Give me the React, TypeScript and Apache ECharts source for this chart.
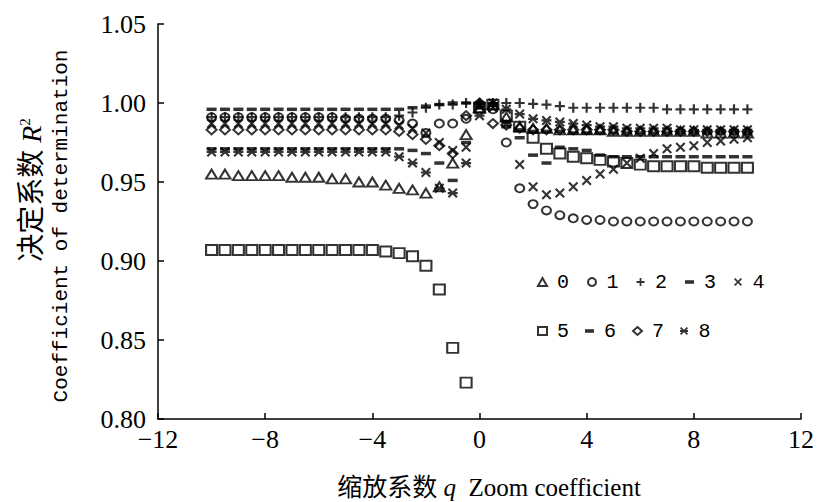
import React, { useEffect, useRef } from 'react';
import * as echarts from 'echarts';

// Zoom coefficient q
const qValues = [
  -10, -9.5, -9, -8.5, -8, -7.5, -7, -6.5, -6, -5.5, -5, -4.5, -4, -3.5, -3, -2.5, -2, -1.5, -1, -0.5,
  0, 0.5, 1, 1.5, 2, 2.5, 3, 3.5, 4, 4.5, 5, 5.5, 6, 6.5, 7, 7.5, 8, 8.5, 9, 9.5, 10,
];

const s0 = [
  0.955, 0.955, 0.954, 0.954, 0.954, 0.954, 0.953, 0.953, 0.953,
  0.952, 0.952, 0.950, 0.950, 0.948, 0.946, 0.945, 0.943, 0.947, 0.962, 0.980, 0.997, 0.999, 0.991, 0.985, 0.984, 0.984, 0.983,
  0.983, 0.983, 0.983, 0.982, 0.982, 0.982, 0.982, 0.982, 0.982, 0.982, 0.981, 0.981, 0.981, 0.981,
];
const s1 = [
  0.991, 0.991, 0.991, 0.991, 0.991, 0.991, 0.991, 0.991, 0.991, 0.991, 0.990, 0.990, 0.990, 0.990,
  0.989, 0.987, 0.981, 0.987, 0.987, 0.990, 0.999, 0.996, 0.975, 0.946, 0.936, 0.932, 0.929, 0.927, 0.926,
  0.926, 0.925, 0.925, 0.925, 0.925, 0.925, 0.925, 0.925, 0.925, 0.925, 0.925, 0.925,
];
const s2 = [
  0.991, 0.991, 0.991, 0.991, 0.991, 0.991, 0.991, 0.991, 0.991, 0.991, 0.991, 0.991, 0.991, 0.991,
  0.992, 0.994, 0.997, 0.999, 0.999, 1.000, 1.000, 1.000, 1.000, 1.000, 0.9995, 0.999, 0.998, 0.997, 0.997,
  0.997, 0.997, 0.997, 0.997, 0.997, 0.996, 0.996, 0.996, 0.996, 0.996, 0.996, 0.996,
];
const s3 = [
  0.996, 0.996, 0.996, 0.996, 0.996, 0.996, 0.996, 0.996, 0.996, 0.996, 0.996, 0.996, 0.996, 0.996,
  0.996, 0.997, 0.998, 0.999, 1.000, 1.000, 1.000, 0.999, 0.985, 0.983, 0.982, 0.982, 0.982, 0.981, 0.981,
  0.981, 0.981, 0.981, 0.981, 0.981, 0.981, 0.981, 0.981, 0.981, 0.981, 0.981, 0.981,
];
const s4 = [
  0.987, 0.987, 0.987, 0.987, 0.987, 0.987, 0.987, 0.987, 0.987, 0.987, 0.987, 0.987, 0.987, 0.987,
  0.986, 0.984, 0.981, 0.975, 0.970, 0.972, 0.998, 0.997, 0.987, 0.961, 0.947, 0.942, 0.943, 0.947, 0.951,
  0.955, 0.958, 0.962, 0.965, 0.968, 0.971, 0.972, 0.973, 0.975, 0.976, 0.977, 0.978,
];
const s5 = [
  0.907, 0.907, 0.907, 0.907, 0.907, 0.907, 0.907, 0.907, 0.907, 0.907, 0.907, 0.907, 0.907,
  0.906, 0.905, 0.903, 0.897, 0.882, 0.845, 0.823, 0.997, 0.999, 0.992, 0.985, 0.978, 0.971, 0.968, 0.966, 0.965,
  0.964, 0.963, 0.962, 0.961, 0.960, 0.960, 0.960, 0.960, 0.959, 0.959, 0.959, 0.959,
];
const s6 = [
  0.971, 0.971, 0.971, 0.971, 0.971, 0.971, 0.971, 0.971, 0.971, 0.971, 0.971, 0.971, 0.971, 0.971,
  0.971, 0.970, 0.968, 0.962, 0.951, 0.975, 0.997, 0.999, 0.988, 0.978, 0.967, 0.962, 0.972, 0.971, 0.970,
  0.967, 0.966, 0.966, 0.966, 0.966, 0.966, 0.966, 0.966, 0.966, 0.966, 0.966, 0.966,
];
const s7 = [
  0.983, 0.983, 0.983, 0.983, 0.983, 0.983, 0.983, 0.983, 0.983, 0.983, 0.983, 0.983, 0.983, 0.983,
  0.982, 0.980, 0.977, 0.973, 0.968, 0.992, 1.000, 0.987, 0.986, 0.984, 0.983, 0.983, 0.983, 0.983, 0.983,
  0.983, 0.983, 0.982, 0.982, 0.982, 0.982, 0.982, 0.982, 0.982, 0.982, 0.982, 0.982,
];
const s8 = [
  0.969, 0.969, 0.969, 0.969, 0.969, 0.969, 0.969, 0.969, 0.969, 0.969, 0.969, 0.969, 0.969, 0.969,
  0.966, 0.962, 0.956, 0.946, 0.943, 0.962, 0.992, 1.000, 0.996, 0.993, 0.990, 0.989, 0.988, 0.987, 0.986,
  0.985, 0.985, 0.984, 0.984, 0.984, 0.984, 0.983, 0.983, 0.983, 0.983, 0.983, 0.983,
];

const seriesNames = ['0', '1', '2', '3', '4', '5', '6', '7', '8'];
const seriesValues = [s0, s1, s2, s3, s4, s5, s6, s7, s8];

const xTicks = { min: -12, max: 12, interval: 4 };
const yTicks = { min: 0.8, max: 1.05, interval: 0.05 };

const PLUS = 'path://M3.9,0h2.2v10h-2.2z M0,3.9h10v2.2h-10z';
const CROSS = 'path://M0,1.5L1.5,0L10,8.5L8.5,10Z M8.5,0L10,1.5L1.5,10L0,8.5Z';
const STAR = 'path://M0,1.5L1.5,0L10,8.5L8.5,10Z M8.5,0L10,1.5L1.5,10L0,8.5Z M0,3.9h10v2.2h-10z';
const DASH_ICON = 'path://M0,0h10v4h-10z';

const hollow = { color: 'rgba(0,0,0,0)', borderColor: '#000', borderWidth: 2 };
const solid = { color: '#000', borderWidth: 0 };

const markerStyles: any[] = [
  { symbol: 'triangle', symbolSize: [11, 9], itemStyle: hollow },
  { symbol: 'circle', symbolSize: [9, 8], itemStyle: hollow },
  { symbol: PLUS, symbolSize: [10, 10], itemStyle: solid },
  { symbol: 'rect', symbolSize: [10, 3.5], itemStyle: solid },
  { symbol: CROSS, symbolSize: [10, 10], itemStyle: solid },
  { symbol: 'rect', symbolSize: [11, 10], itemStyle: hollow },
  { symbol: 'rect', symbolSize: [10, 3.5], itemStyle: solid },
  { symbol: 'diamond', symbolSize: [10, 9], itemStyle: hollow },
  { symbol: STAR, symbolSize: [10, 10], itemStyle: solid },
];

const LATIN = "'Liberation Serif', 'Noto Sans CJK SC', serif";

export default function App() {
  const ref = useRef<HTMLDivElement>(null);

  useEffect(() => {
    if (!ref.current) return;
    const chart = echarts.init(ref.current, null, { renderer: 'svg' });

    const series = seriesNames.map((name, k) => ({
      name,
      type: 'scatter',
      data: qValues.map((q, i) => [q, seriesValues[k][i]]),
      symbol: markerStyles[k].symbol,
      symbolSize: markerStyles[k].symbolSize,
      itemStyle: markerStyles[k].itemStyle,
      emphasis: { disabled: true },
    }));

    const legendItem = (name: string) =>
      name === '3' || name === '6' ? { name, icon: DASH_ICON } : { name };

    const legendCommon = {
      orient: 'horizontal',
      itemWidth: 9,
      itemHeight: 8,
      padding: 0,
      selectedMode: false,
      textStyle: {
        fontFamily: "'Liberation Mono', monospace",
        fontSize: 20,
        color: '#000',
        padding: [0, 0, 0, 5],
      },
    };

    chart.setOption({
      animation: false,
      backgroundColor: '#fff',
      grid: { left: 158, right: 11, top: 24, bottom: 83, containLabel: false },
      xAxis: {
        type: 'value',
        min: xTicks.min,
        max: xTicks.max,
        interval: xTicks.interval,
        axisLine: { show: true, onZero: false, lineStyle: { color: '#000', width: 1.5 } },
        axisTick: { show: true, inside: true, length: 6, lineStyle: { color: '#000', width: 1.5 } },
        splitLine: { show: false },
        axisLabel: {
          color: '#000',
          fontFamily: LATIN,
          fontSize: 26,
          margin: 7,
          formatter: (v: number) => (v < 0 ? '\u2212' + Math.abs(v) : String(v)),
        },
      },
      yAxis: {
        type: 'value',
        min: yTicks.min,
        max: yTicks.max,
        interval: yTicks.interval,
        axisLine: { show: true, onZero: false, lineStyle: { color: '#000', width: 1.5 } },
        axisTick: { show: true, inside: true, length: 6, lineStyle: { color: '#000', width: 1.5 } },
        splitLine: { show: false },
        axisLabel: {
          color: '#000',
          fontFamily: LATIN,
          fontSize: 26,
          margin: 12,
          formatter: (v: number) => v.toFixed(2),
        },
      },
      legend: [
        { ...legendCommon, left: 537, top: 272, itemGap: 18, data: ['0', '1', '2', '3', '4'].map(legendItem) },
        { ...legendCommon, left: 537, top: 321, itemGap: 16, data: ['5', '6', '7', '8'].map(legendItem) },
      ],
      graphic: [
        {
          type: 'text',
          x: 31,
          y: 190,
          rotation: Math.PI / 2,
          style: {
            text: '决定系数 {i|R}{s|2}',
            fill: '#000',
            font: `28px ${LATIN}`,
            align: 'center',
            verticalAlign: 'middle',
            rich: {
              i: { fontStyle: 'italic', fontSize: 28, fontFamily: LATIN, fill: '#000' },
              s: { fontSize: 15, fontFamily: LATIN, verticalAlign: 'top', fill: '#000' },
            },
          },
        },
        {
          type: 'text',
          x: 61,
          y: 226,
          rotation: Math.PI / 2,
          style: {
            text: 'Coefficient of determination',
            fill: '#000',
            font: "21px 'Liberation Mono', monospace",
            align: 'center',
            verticalAlign: 'middle',
          },
        },
        {
          type: 'text',
          x: 489,
          y: 487,
          style: {
            text: '缩放系数 {i|q}  Zoom coefficient',
            fill: '#000',
            font: `25px ${LATIN}`,
            align: 'center',
            verticalAlign: 'middle',
            rich: {
              i: { fontStyle: 'italic', fontSize: 25, fontFamily: LATIN, fill: '#000' },
            },
          },
        },
      ],
      series,
    });

    return () => chart.dispose();
  }, []);

  return (
    <div
      ref={ref}
      style={{ position: 'fixed', left: 0, top: 0, width: 817, height: 502, background: '#fff' }}
    />
  );
}
